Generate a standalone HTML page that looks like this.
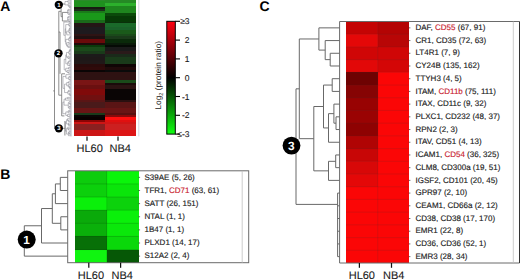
<!DOCTYPE html>
<html><head><meta charset="utf-8"><style>
html,body{margin:0;padding:0;background:#fff;}
body{width:520px;height:279px;overflow:hidden;}
svg{display:block;font-family:"Liberation Sans", sans-serif;text-rendering:geometricPrecision;}
</style></head><body>
<svg width="520" height="279" viewBox="0 0 520 279">
<text x="0.2" y="10.6" font-size="14" font-weight="bold" fill="#000">A</text>
<g shape-rendering="crispEdges">
<rect x="73.5" y="0" width="31.20" height="1.00" fill="#2a8a2a"/>
<rect x="73.5" y="1" width="31.20" height="5.50" fill="#1f901f"/>
<rect x="73.5" y="6.5" width="31.20" height="2.50" fill="#181a12"/>
<rect x="73.5" y="9" width="31.20" height="2.00" fill="#1a2e1a"/>
<rect x="73.5" y="11" width="31.20" height="1.80" fill="#1a7a1a"/>
<rect x="73.5" y="12.8" width="31.20" height="7.20" fill="#1a981a"/>
<rect x="73.5" y="20" width="31.20" height="2.50" fill="#1a6a1a"/>
<rect x="73.5" y="22.5" width="31.20" height="4.50" fill="#241616"/>
<rect x="73.5" y="27" width="31.20" height="3.00" fill="#1c1c1e"/>
<rect x="73.5" y="30" width="31.20" height="3.50" fill="#1e1a1e"/>
<rect x="73.5" y="33.5" width="31.20" height="2.50" fill="#2e1414"/>
<rect x="73.5" y="36" width="31.20" height="2.50" fill="#201010"/>
<rect x="73.5" y="38.5" width="31.20" height="4.50" fill="#6a0a0a"/>
<rect x="73.5" y="43" width="31.20" height="2.00" fill="#200a0a"/>
<rect x="73.5" y="45" width="31.20" height="1.50" fill="#0a3a0a"/>
<rect x="73.5" y="46.5" width="31.20" height="4.50" fill="#1a4a1a"/>
<rect x="73.5" y="51" width="31.20" height="3.00" fill="#1a3a1a"/>
<rect x="73.5" y="54" width="31.20" height="3.00" fill="#1c1a1a"/>
<rect x="73.5" y="57" width="31.20" height="4.00" fill="#1e1818"/>
<rect x="73.5" y="61" width="31.20" height="3.00" fill="#201818"/>
<rect x="73.5" y="64" width="31.20" height="3.00" fill="#2a0a0a"/>
<rect x="73.5" y="67" width="31.20" height="3.00" fill="#300a0a"/>
<rect x="73.5" y="70" width="31.20" height="2.00" fill="#0a0505"/>
<rect x="73.5" y="72" width="31.20" height="8.00" fill="#2e1212"/>
<rect x="73.5" y="80" width="31.20" height="3.00" fill="#7a1515"/>
<rect x="73.5" y="83" width="31.20" height="2.00" fill="#7a1515"/>
<rect x="73.5" y="85" width="31.20" height="4.00" fill="#6a1010"/>
<rect x="73.5" y="89" width="31.20" height="6.00" fill="#800a0a"/>
<rect x="73.5" y="95" width="31.20" height="5.00" fill="#701010"/>
<rect x="73.5" y="100" width="31.20" height="2.00" fill="#5a1515"/>
<rect x="73.5" y="102" width="31.20" height="6.00" fill="#4a1a1a"/>
<rect x="73.5" y="108" width="31.20" height="4.50" fill="#6a1515"/>
<rect x="73.5" y="112.5" width="31.20" height="2.50" fill="#1a3a1a"/>
<rect x="73.5" y="115" width="31.20" height="2.00" fill="#0a0505"/>
<rect x="73.5" y="117" width="31.20" height="3.00" fill="#0a0000"/>
<rect x="73.5" y="120" width="31.20" height="1.50" fill="#8a0505"/>
<rect x="73.5" y="121.5" width="31.20" height="2.50" fill="#cc1515"/>
<rect x="73.5" y="124" width="31.20" height="6.00" fill="#8a2020"/>
<rect x="73.5" y="130" width="31.20" height="6.40" fill="#cc1515"/>
<rect x="104.7" y="0" width="31.30" height="2.70" fill="#258a25"/>
<rect x="104.7" y="2.7" width="31.30" height="3.50" fill="#2cb02c"/>
<rect x="104.7" y="6.2" width="31.30" height="6.60" fill="#1e861e"/>
<rect x="104.7" y="12.8" width="31.30" height="2.70" fill="#0a4a0a"/>
<rect x="104.7" y="15.5" width="31.30" height="6.00" fill="#063a06"/>
<rect x="104.7" y="21.5" width="31.30" height="1.00" fill="#0a300a"/>
<rect x="104.7" y="22.5" width="31.30" height="4.50" fill="#1a6a2a"/>
<rect x="104.7" y="27" width="31.30" height="3.00" fill="#1a622a"/>
<rect x="104.7" y="30" width="31.30" height="3.50" fill="#1a5a1a"/>
<rect x="104.7" y="33.5" width="31.30" height="2.50" fill="#1a4a1a"/>
<rect x="104.7" y="36" width="31.30" height="2.50" fill="#1a3a1a"/>
<rect x="104.7" y="38.5" width="31.30" height="4.50" fill="#0a2a0a"/>
<rect x="104.7" y="43" width="31.30" height="2.00" fill="#0a1a0a"/>
<rect x="104.7" y="45" width="31.30" height="1.50" fill="#050a05"/>
<rect x="104.7" y="46.5" width="31.30" height="4.50" fill="#1a1a1a"/>
<rect x="104.7" y="51" width="31.30" height="3.00" fill="#2a1a1a"/>
<rect x="104.7" y="54" width="31.30" height="3.00" fill="#1a2a1a"/>
<rect x="104.7" y="57" width="31.30" height="4.00" fill="#1a3a1a"/>
<rect x="104.7" y="61" width="31.30" height="3.00" fill="#1a3a1a"/>
<rect x="104.7" y="64" width="31.30" height="3.00" fill="#100505"/>
<rect x="104.7" y="67" width="31.30" height="3.00" fill="#200a0a"/>
<rect x="104.7" y="70" width="31.30" height="2.00" fill="#0a0a0a"/>
<rect x="104.7" y="72" width="31.30" height="8.00" fill="#2e1212"/>
<rect x="104.7" y="80" width="31.30" height="3.00" fill="#1a4a1a"/>
<rect x="104.7" y="83" width="31.30" height="2.00" fill="#1a0a0a"/>
<rect x="104.7" y="85" width="31.30" height="4.00" fill="#2a1212"/>
<rect x="104.7" y="89" width="31.30" height="6.00" fill="#0a0505"/>
<rect x="104.7" y="95" width="31.30" height="5.00" fill="#0a0505"/>
<rect x="104.7" y="100" width="31.30" height="2.00" fill="#2a1010"/>
<rect x="104.7" y="102" width="31.30" height="6.00" fill="#5a1515"/>
<rect x="104.7" y="108" width="31.30" height="4.50" fill="#6a1515"/>
<rect x="104.7" y="112.5" width="31.30" height="2.50" fill="#5a1010"/>
<rect x="104.7" y="115" width="31.30" height="2.00" fill="#8a0a0a"/>
<rect x="104.7" y="117" width="31.30" height="3.00" fill="#ff1010"/>
<rect x="104.7" y="120" width="31.30" height="1.50" fill="#e01010"/>
<rect x="104.7" y="121.5" width="31.30" height="2.50" fill="#d01515"/>
<rect x="104.7" y="124" width="31.30" height="6.00" fill="#cc2020"/>
<rect x="104.7" y="130" width="31.30" height="6.40" fill="#dd1515"/>
</g>
<line x1="71.0" y1="0" x2="71.0" y2="136.4" stroke="#a8a8b8" stroke-width="0.9"/>
<line x1="138.8" y1="0" x2="138.8" y2="136.4" stroke="#c8ccd8" stroke-width="0.8"/>
<line x1="87" y1="136.4" x2="87" y2="140.8" stroke="#111" stroke-width="1.25"/>
<line x1="118" y1="136.4" x2="118" y2="140.8" stroke="#111" stroke-width="1.25"/>
<text x="76.5" y="152" font-size="11" fill="#1a1a1a" stroke="#1a1a1a" stroke-width="0.1">HL60</text>
<text x="109.5" y="152" font-size="11" fill="#1a1a1a" stroke="#1a1a1a" stroke-width="0.1">NB4</text>
<line x1="54.50" y1="53.30" x2="54.50" y2="128.30" stroke="#707070" stroke-width="0.8"/>
<line x1="53.20" y1="90.90" x2="54.50" y2="90.90" stroke="#707070" stroke-width="0.8"/>
<line x1="54.50" y1="53.30" x2="58.80" y2="53.30" stroke="#707070" stroke-width="0.8"/>
<line x1="58.80" y1="11.30" x2="58.80" y2="95.20" stroke="#707070" stroke-width="0.8"/>
<line x1="58.80" y1="11.30" x2="61.10" y2="11.30" stroke="#707070" stroke-width="0.8"/>
<line x1="61.10" y1="4.00" x2="61.10" y2="16.70" stroke="#707070" stroke-width="0.8"/>
<line x1="61.10" y1="4.00" x2="65.00" y2="4.00" stroke="#707070" stroke-width="0.8"/>
<line x1="61.10" y1="16.70" x2="62.40" y2="16.70" stroke="#707070" stroke-width="0.8"/>
<line x1="62.40" y1="12.40" x2="62.40" y2="21.00" stroke="#707070" stroke-width="0.8"/>
<line x1="62.40" y1="12.40" x2="67.60" y2="12.40" stroke="#707070" stroke-width="0.8"/>
<line x1="62.40" y1="21.00" x2="67.60" y2="21.00" stroke="#707070" stroke-width="0.8"/>
<line x1="58.80" y1="95.20" x2="61.70" y2="95.20" stroke="#707070" stroke-width="0.8"/>
<line x1="61.70" y1="73.80" x2="61.70" y2="115.90" stroke="#707070" stroke-width="0.8"/>
<line x1="61.70" y1="73.80" x2="65.00" y2="73.80" stroke="#707070" stroke-width="0.8"/>
<line x1="61.70" y1="115.90" x2="64.40" y2="115.90" stroke="#707070" stroke-width="0.8"/>
<line x1="54.50" y1="128.30" x2="64.90" y2="128.30" stroke="#707070" stroke-width="0.8"/>
<line x1="64.90" y1="121.00" x2="64.90" y2="135.50" stroke="#707070" stroke-width="0.8"/>
<line x1="60.00" y1="32.00" x2="60.00" y2="73.80" stroke="#707070" stroke-width="0.8"/>
<line x1="58.80" y1="32.00" x2="60.00" y2="32.00" stroke="#707070" stroke-width="0.8"/>
<line x1="67.77" y1="0.80" x2="70.60" y2="0.80" stroke="#7a7a84" stroke-width="0.5"/>
<line x1="67.77" y1="2.22" x2="70.60" y2="2.22" stroke="#7a7a84" stroke-width="0.5"/>
<line x1="67.77" y1="0.80" x2="67.77" y2="2.22" stroke="#7a7a84" stroke-width="0.5"/>
<line x1="69.88" y1="6.48" x2="70.60" y2="6.48" stroke="#7a7a84" stroke-width="0.5"/>
<line x1="69.88" y1="7.90" x2="70.60" y2="7.90" stroke="#7a7a84" stroke-width="0.5"/>
<line x1="69.88" y1="6.48" x2="69.88" y2="7.90" stroke="#7a7a84" stroke-width="0.5"/>
<line x1="69.12" y1="5.06" x2="70.60" y2="5.06" stroke="#7a7a84" stroke-width="0.5"/>
<line x1="69.12" y1="7.19" x2="69.88" y2="7.19" stroke="#7a7a84" stroke-width="0.5"/>
<line x1="69.12" y1="5.06" x2="69.12" y2="7.19" stroke="#7a7a84" stroke-width="0.5"/>
<line x1="68.20" y1="3.64" x2="70.60" y2="3.64" stroke="#7a7a84" stroke-width="0.5"/>
<line x1="68.20" y1="6.12" x2="69.12" y2="6.12" stroke="#7a7a84" stroke-width="0.5"/>
<line x1="68.20" y1="3.64" x2="68.20" y2="6.12" stroke="#7a7a84" stroke-width="0.5"/>
<line x1="65.00" y1="1.51" x2="67.77" y2="1.51" stroke="#7a7a84" stroke-width="0.5"/>
<line x1="65.00" y1="4.88" x2="68.20" y2="4.88" stroke="#7a7a84" stroke-width="0.5"/>
<line x1="65.00" y1="1.51" x2="65.00" y2="4.88" stroke="#7a7a84" stroke-width="0.5"/>
<line x1="68.24" y1="9.32" x2="70.60" y2="9.32" stroke="#7a7a84" stroke-width="0.5"/>
<line x1="68.24" y1="10.74" x2="70.60" y2="10.74" stroke="#7a7a84" stroke-width="0.5"/>
<line x1="68.24" y1="9.32" x2="68.24" y2="10.74" stroke="#7a7a84" stroke-width="0.5"/>
<line x1="69.23" y1="13.58" x2="70.60" y2="13.58" stroke="#7a7a84" stroke-width="0.5"/>
<line x1="69.23" y1="15.00" x2="70.60" y2="15.00" stroke="#7a7a84" stroke-width="0.5"/>
<line x1="69.23" y1="13.58" x2="69.23" y2="15.00" stroke="#7a7a84" stroke-width="0.5"/>
<line x1="68.05" y1="12.16" x2="70.60" y2="12.16" stroke="#7a7a84" stroke-width="0.5"/>
<line x1="68.05" y1="14.29" x2="69.23" y2="14.29" stroke="#7a7a84" stroke-width="0.5"/>
<line x1="68.05" y1="12.16" x2="68.05" y2="14.29" stroke="#7a7a84" stroke-width="0.5"/>
<line x1="67.60" y1="10.03" x2="68.24" y2="10.03" stroke="#7a7a84" stroke-width="0.5"/>
<line x1="67.60" y1="13.22" x2="68.05" y2="13.22" stroke="#7a7a84" stroke-width="0.5"/>
<line x1="67.60" y1="10.03" x2="67.60" y2="13.22" stroke="#7a7a84" stroke-width="0.5"/>
<line x1="68.30" y1="16.42" x2="70.60" y2="16.42" stroke="#7a7a84" stroke-width="0.5"/>
<line x1="68.30" y1="17.84" x2="70.60" y2="17.84" stroke="#7a7a84" stroke-width="0.5"/>
<line x1="68.30" y1="16.42" x2="68.30" y2="17.84" stroke="#7a7a84" stroke-width="0.5"/>
<line x1="69.43" y1="20.68" x2="70.60" y2="20.68" stroke="#7a7a84" stroke-width="0.5"/>
<line x1="69.43" y1="22.10" x2="70.60" y2="22.10" stroke="#7a7a84" stroke-width="0.5"/>
<line x1="69.43" y1="20.68" x2="69.43" y2="22.10" stroke="#7a7a84" stroke-width="0.5"/>
<line x1="68.27" y1="19.26" x2="70.60" y2="19.26" stroke="#7a7a84" stroke-width="0.5"/>
<line x1="68.27" y1="21.39" x2="69.43" y2="21.39" stroke="#7a7a84" stroke-width="0.5"/>
<line x1="68.27" y1="19.26" x2="68.27" y2="21.39" stroke="#7a7a84" stroke-width="0.5"/>
<line x1="67.60" y1="17.13" x2="68.30" y2="17.13" stroke="#7a7a84" stroke-width="0.5"/>
<line x1="67.60" y1="20.33" x2="68.27" y2="20.33" stroke="#7a7a84" stroke-width="0.5"/>
<line x1="67.60" y1="17.13" x2="67.60" y2="20.33" stroke="#7a7a84" stroke-width="0.5"/>
<line x1="69.37" y1="24.94" x2="70.60" y2="24.94" stroke="#7a7a84" stroke-width="0.5"/>
<line x1="69.37" y1="26.36" x2="70.60" y2="26.36" stroke="#7a7a84" stroke-width="0.5"/>
<line x1="69.37" y1="24.94" x2="69.37" y2="26.36" stroke="#7a7a84" stroke-width="0.5"/>
<line x1="68.79" y1="23.52" x2="70.60" y2="23.52" stroke="#7a7a84" stroke-width="0.5"/>
<line x1="68.79" y1="25.65" x2="69.37" y2="25.65" stroke="#7a7a84" stroke-width="0.5"/>
<line x1="68.79" y1="23.52" x2="68.79" y2="25.65" stroke="#7a7a84" stroke-width="0.5"/>
<line x1="69.72" y1="27.78" x2="70.60" y2="27.78" stroke="#7a7a84" stroke-width="0.5"/>
<line x1="69.72" y1="29.20" x2="70.60" y2="29.20" stroke="#7a7a84" stroke-width="0.5"/>
<line x1="69.72" y1="27.78" x2="69.72" y2="29.20" stroke="#7a7a84" stroke-width="0.5"/>
<line x1="69.31" y1="28.49" x2="69.72" y2="28.49" stroke="#7a7a84" stroke-width="0.5"/>
<line x1="69.31" y1="30.62" x2="70.60" y2="30.62" stroke="#7a7a84" stroke-width="0.5"/>
<line x1="69.31" y1="28.49" x2="69.31" y2="30.62" stroke="#7a7a84" stroke-width="0.5"/>
<line x1="69.57" y1="32.04" x2="70.60" y2="32.04" stroke="#7a7a84" stroke-width="0.5"/>
<line x1="69.57" y1="33.46" x2="70.60" y2="33.46" stroke="#7a7a84" stroke-width="0.5"/>
<line x1="69.57" y1="32.04" x2="69.57" y2="33.46" stroke="#7a7a84" stroke-width="0.5"/>
<line x1="68.86" y1="29.55" x2="69.31" y2="29.55" stroke="#7a7a84" stroke-width="0.5"/>
<line x1="68.86" y1="32.75" x2="69.57" y2="32.75" stroke="#7a7a84" stroke-width="0.5"/>
<line x1="68.86" y1="29.55" x2="68.86" y2="32.75" stroke="#7a7a84" stroke-width="0.5"/>
<line x1="66.75" y1="31.15" x2="68.86" y2="31.15" stroke="#7a7a84" stroke-width="0.5"/>
<line x1="66.75" y1="34.88" x2="70.60" y2="34.88" stroke="#7a7a84" stroke-width="0.5"/>
<line x1="66.75" y1="31.15" x2="66.75" y2="34.88" stroke="#7a7a84" stroke-width="0.5"/>
<line x1="65.73" y1="24.59" x2="68.79" y2="24.59" stroke="#7a7a84" stroke-width="0.5"/>
<line x1="65.73" y1="33.02" x2="66.75" y2="33.02" stroke="#7a7a84" stroke-width="0.5"/>
<line x1="65.73" y1="24.59" x2="65.73" y2="33.02" stroke="#7a7a84" stroke-width="0.5"/>
<line x1="70.17" y1="36.30" x2="70.60" y2="36.30" stroke="#7a7a84" stroke-width="0.5"/>
<line x1="70.17" y1="37.72" x2="70.60" y2="37.72" stroke="#7a7a84" stroke-width="0.5"/>
<line x1="70.17" y1="36.30" x2="70.17" y2="37.72" stroke="#7a7a84" stroke-width="0.5"/>
<line x1="69.79" y1="37.01" x2="70.17" y2="37.01" stroke="#7a7a84" stroke-width="0.5"/>
<line x1="69.79" y1="39.14" x2="70.60" y2="39.14" stroke="#7a7a84" stroke-width="0.5"/>
<line x1="69.79" y1="37.01" x2="69.79" y2="39.14" stroke="#7a7a84" stroke-width="0.5"/>
<line x1="68.73" y1="38.07" x2="69.79" y2="38.07" stroke="#7a7a84" stroke-width="0.5"/>
<line x1="68.73" y1="40.56" x2="70.60" y2="40.56" stroke="#7a7a84" stroke-width="0.5"/>
<line x1="68.73" y1="38.07" x2="68.73" y2="40.56" stroke="#7a7a84" stroke-width="0.5"/>
<line x1="68.77" y1="41.98" x2="70.60" y2="41.98" stroke="#7a7a84" stroke-width="0.5"/>
<line x1="68.77" y1="43.40" x2="70.60" y2="43.40" stroke="#7a7a84" stroke-width="0.5"/>
<line x1="68.77" y1="41.98" x2="68.77" y2="43.40" stroke="#7a7a84" stroke-width="0.5"/>
<line x1="68.67" y1="46.24" x2="70.60" y2="46.24" stroke="#7a7a84" stroke-width="0.5"/>
<line x1="68.67" y1="47.66" x2="70.60" y2="47.66" stroke="#7a7a84" stroke-width="0.5"/>
<line x1="68.67" y1="46.24" x2="68.67" y2="47.66" stroke="#7a7a84" stroke-width="0.5"/>
<line x1="67.41" y1="44.82" x2="70.60" y2="44.82" stroke="#7a7a84" stroke-width="0.5"/>
<line x1="67.41" y1="46.95" x2="68.67" y2="46.95" stroke="#7a7a84" stroke-width="0.5"/>
<line x1="67.41" y1="44.82" x2="67.41" y2="46.95" stroke="#7a7a84" stroke-width="0.5"/>
<line x1="66.59" y1="42.69" x2="68.77" y2="42.69" stroke="#7a7a84" stroke-width="0.5"/>
<line x1="66.59" y1="45.88" x2="67.41" y2="45.88" stroke="#7a7a84" stroke-width="0.5"/>
<line x1="66.59" y1="42.69" x2="66.59" y2="45.88" stroke="#7a7a84" stroke-width="0.5"/>
<line x1="65.79" y1="39.32" x2="68.73" y2="39.32" stroke="#7a7a84" stroke-width="0.5"/>
<line x1="65.79" y1="44.29" x2="66.59" y2="44.29" stroke="#7a7a84" stroke-width="0.5"/>
<line x1="65.79" y1="39.32" x2="65.79" y2="44.29" stroke="#7a7a84" stroke-width="0.5"/>
<line x1="65.24" y1="28.80" x2="65.73" y2="28.80" stroke="#7a7a84" stroke-width="0.5"/>
<line x1="65.24" y1="41.80" x2="65.79" y2="41.80" stroke="#7a7a84" stroke-width="0.5"/>
<line x1="65.24" y1="28.80" x2="65.24" y2="41.80" stroke="#7a7a84" stroke-width="0.5"/>
<line x1="63.80" y1="22.10" x2="70.60" y2="22.10" stroke="#7a7a84" stroke-width="0.5"/>
<line x1="63.80" y1="35.30" x2="65.24" y2="35.30" stroke="#7a7a84" stroke-width="0.5"/>
<line x1="63.80" y1="22.10" x2="63.80" y2="35.30" stroke="#7a7a84" stroke-width="0.5"/>
<line x1="70.14" y1="49.08" x2="70.60" y2="49.08" stroke="#7a7a84" stroke-width="0.5"/>
<line x1="70.14" y1="50.50" x2="70.60" y2="50.50" stroke="#7a7a84" stroke-width="0.5"/>
<line x1="70.14" y1="49.08" x2="70.14" y2="50.50" stroke="#7a7a84" stroke-width="0.5"/>
<line x1="69.71" y1="49.79" x2="70.14" y2="49.79" stroke="#7a7a84" stroke-width="0.5"/>
<line x1="69.71" y1="51.92" x2="70.60" y2="51.92" stroke="#7a7a84" stroke-width="0.5"/>
<line x1="69.71" y1="49.79" x2="69.71" y2="51.92" stroke="#7a7a84" stroke-width="0.5"/>
<line x1="69.80" y1="53.34" x2="70.60" y2="53.34" stroke="#7a7a84" stroke-width="0.5"/>
<line x1="69.80" y1="54.76" x2="70.60" y2="54.76" stroke="#7a7a84" stroke-width="0.5"/>
<line x1="69.80" y1="53.34" x2="69.80" y2="54.76" stroke="#7a7a84" stroke-width="0.5"/>
<line x1="68.89" y1="50.85" x2="69.71" y2="50.85" stroke="#7a7a84" stroke-width="0.5"/>
<line x1="68.89" y1="54.05" x2="69.80" y2="54.05" stroke="#7a7a84" stroke-width="0.5"/>
<line x1="68.89" y1="50.85" x2="68.89" y2="54.05" stroke="#7a7a84" stroke-width="0.5"/>
<line x1="68.95" y1="57.60" x2="70.60" y2="57.60" stroke="#7a7a84" stroke-width="0.5"/>
<line x1="68.95" y1="59.02" x2="70.60" y2="59.02" stroke="#7a7a84" stroke-width="0.5"/>
<line x1="68.95" y1="57.60" x2="68.95" y2="59.02" stroke="#7a7a84" stroke-width="0.5"/>
<line x1="67.85" y1="56.18" x2="70.60" y2="56.18" stroke="#7a7a84" stroke-width="0.5"/>
<line x1="67.85" y1="58.31" x2="68.95" y2="58.31" stroke="#7a7a84" stroke-width="0.5"/>
<line x1="67.85" y1="56.18" x2="67.85" y2="58.31" stroke="#7a7a84" stroke-width="0.5"/>
<line x1="66.49" y1="52.45" x2="68.89" y2="52.45" stroke="#7a7a84" stroke-width="0.5"/>
<line x1="66.49" y1="57.24" x2="67.85" y2="57.24" stroke="#7a7a84" stroke-width="0.5"/>
<line x1="66.49" y1="52.45" x2="66.49" y2="57.24" stroke="#7a7a84" stroke-width="0.5"/>
<line x1="69.78" y1="60.44" x2="70.60" y2="60.44" stroke="#7a7a84" stroke-width="0.5"/>
<line x1="69.78" y1="61.86" x2="70.60" y2="61.86" stroke="#7a7a84" stroke-width="0.5"/>
<line x1="69.78" y1="60.44" x2="69.78" y2="61.86" stroke="#7a7a84" stroke-width="0.5"/>
<line x1="68.38" y1="61.15" x2="69.78" y2="61.15" stroke="#7a7a84" stroke-width="0.5"/>
<line x1="68.38" y1="63.28" x2="70.60" y2="63.28" stroke="#7a7a84" stroke-width="0.5"/>
<line x1="68.38" y1="61.15" x2="68.38" y2="63.28" stroke="#7a7a84" stroke-width="0.5"/>
<line x1="69.39" y1="64.70" x2="70.60" y2="64.70" stroke="#7a7a84" stroke-width="0.5"/>
<line x1="69.39" y1="66.12" x2="70.60" y2="66.12" stroke="#7a7a84" stroke-width="0.5"/>
<line x1="69.39" y1="64.70" x2="69.39" y2="66.12" stroke="#7a7a84" stroke-width="0.5"/>
<line x1="67.70" y1="62.21" x2="68.38" y2="62.21" stroke="#7a7a84" stroke-width="0.5"/>
<line x1="67.70" y1="65.41" x2="69.39" y2="65.41" stroke="#7a7a84" stroke-width="0.5"/>
<line x1="67.70" y1="62.21" x2="67.70" y2="65.41" stroke="#7a7a84" stroke-width="0.5"/>
<line x1="65.80" y1="54.85" x2="66.49" y2="54.85" stroke="#7a7a84" stroke-width="0.5"/>
<line x1="65.80" y1="63.81" x2="67.70" y2="63.81" stroke="#7a7a84" stroke-width="0.5"/>
<line x1="65.80" y1="54.85" x2="65.80" y2="63.81" stroke="#7a7a84" stroke-width="0.5"/>
<line x1="68.57" y1="67.54" x2="70.60" y2="67.54" stroke="#7a7a84" stroke-width="0.5"/>
<line x1="68.57" y1="68.96" x2="70.60" y2="68.96" stroke="#7a7a84" stroke-width="0.5"/>
<line x1="68.57" y1="67.54" x2="68.57" y2="68.96" stroke="#7a7a84" stroke-width="0.5"/>
<line x1="68.46" y1="71.80" x2="70.60" y2="71.80" stroke="#7a7a84" stroke-width="0.5"/>
<line x1="68.46" y1="73.22" x2="70.60" y2="73.22" stroke="#7a7a84" stroke-width="0.5"/>
<line x1="68.46" y1="71.80" x2="68.46" y2="73.22" stroke="#7a7a84" stroke-width="0.5"/>
<line x1="67.12" y1="70.38" x2="70.60" y2="70.38" stroke="#7a7a84" stroke-width="0.5"/>
<line x1="67.12" y1="72.51" x2="68.46" y2="72.51" stroke="#7a7a84" stroke-width="0.5"/>
<line x1="67.12" y1="70.38" x2="67.12" y2="72.51" stroke="#7a7a84" stroke-width="0.5"/>
<line x1="65.73" y1="68.25" x2="68.57" y2="68.25" stroke="#7a7a84" stroke-width="0.5"/>
<line x1="65.73" y1="71.44" x2="67.12" y2="71.44" stroke="#7a7a84" stroke-width="0.5"/>
<line x1="65.73" y1="68.25" x2="65.73" y2="71.44" stroke="#7a7a84" stroke-width="0.5"/>
<line x1="64.20" y1="59.33" x2="65.80" y2="59.33" stroke="#7a7a84" stroke-width="0.5"/>
<line x1="64.20" y1="69.85" x2="65.73" y2="69.85" stroke="#7a7a84" stroke-width="0.5"/>
<line x1="64.20" y1="59.33" x2="64.20" y2="69.85" stroke="#7a7a84" stroke-width="0.5"/>
<line x1="69.81" y1="76.06" x2="70.60" y2="76.06" stroke="#7a7a84" stroke-width="0.5"/>
<line x1="69.81" y1="77.48" x2="70.60" y2="77.48" stroke="#7a7a84" stroke-width="0.5"/>
<line x1="69.81" y1="76.06" x2="69.81" y2="77.48" stroke="#7a7a84" stroke-width="0.5"/>
<line x1="69.82" y1="78.90" x2="70.60" y2="78.90" stroke="#7a7a84" stroke-width="0.5"/>
<line x1="69.82" y1="80.32" x2="70.60" y2="80.32" stroke="#7a7a84" stroke-width="0.5"/>
<line x1="69.82" y1="78.90" x2="69.82" y2="80.32" stroke="#7a7a84" stroke-width="0.5"/>
<line x1="68.73" y1="76.77" x2="69.81" y2="76.77" stroke="#7a7a84" stroke-width="0.5"/>
<line x1="68.73" y1="79.61" x2="69.82" y2="79.61" stroke="#7a7a84" stroke-width="0.5"/>
<line x1="68.73" y1="76.77" x2="68.73" y2="79.61" stroke="#7a7a84" stroke-width="0.5"/>
<line x1="65.91" y1="74.64" x2="70.60" y2="74.64" stroke="#7a7a84" stroke-width="0.5"/>
<line x1="65.91" y1="78.19" x2="68.73" y2="78.19" stroke="#7a7a84" stroke-width="0.5"/>
<line x1="65.91" y1="74.64" x2="65.91" y2="78.19" stroke="#7a7a84" stroke-width="0.5"/>
<line x1="68.46" y1="81.74" x2="70.60" y2="81.74" stroke="#7a7a84" stroke-width="0.5"/>
<line x1="68.46" y1="83.16" x2="70.60" y2="83.16" stroke="#7a7a84" stroke-width="0.5"/>
<line x1="68.46" y1="81.74" x2="68.46" y2="83.16" stroke="#7a7a84" stroke-width="0.5"/>
<line x1="69.84" y1="87.42" x2="70.60" y2="87.42" stroke="#7a7a84" stroke-width="0.5"/>
<line x1="69.84" y1="88.84" x2="70.60" y2="88.84" stroke="#7a7a84" stroke-width="0.5"/>
<line x1="69.84" y1="87.42" x2="69.84" y2="88.84" stroke="#7a7a84" stroke-width="0.5"/>
<line x1="69.41" y1="86.00" x2="70.60" y2="86.00" stroke="#7a7a84" stroke-width="0.5"/>
<line x1="69.41" y1="88.13" x2="69.84" y2="88.13" stroke="#7a7a84" stroke-width="0.5"/>
<line x1="69.41" y1="86.00" x2="69.41" y2="88.13" stroke="#7a7a84" stroke-width="0.5"/>
<line x1="68.40" y1="84.58" x2="70.60" y2="84.58" stroke="#7a7a84" stroke-width="0.5"/>
<line x1="68.40" y1="87.06" x2="69.41" y2="87.06" stroke="#7a7a84" stroke-width="0.5"/>
<line x1="68.40" y1="84.58" x2="68.40" y2="87.06" stroke="#7a7a84" stroke-width="0.5"/>
<line x1="66.73" y1="82.45" x2="68.46" y2="82.45" stroke="#7a7a84" stroke-width="0.5"/>
<line x1="66.73" y1="85.82" x2="68.40" y2="85.82" stroke="#7a7a84" stroke-width="0.5"/>
<line x1="66.73" y1="82.45" x2="66.73" y2="85.82" stroke="#7a7a84" stroke-width="0.5"/>
<line x1="68.67" y1="90.26" x2="70.60" y2="90.26" stroke="#7a7a84" stroke-width="0.5"/>
<line x1="68.67" y1="91.68" x2="70.60" y2="91.68" stroke="#7a7a84" stroke-width="0.5"/>
<line x1="68.67" y1="90.26" x2="68.67" y2="91.68" stroke="#7a7a84" stroke-width="0.5"/>
<line x1="70.24" y1="94.52" x2="70.60" y2="94.52" stroke="#7a7a84" stroke-width="0.5"/>
<line x1="70.24" y1="95.94" x2="70.60" y2="95.94" stroke="#7a7a84" stroke-width="0.5"/>
<line x1="70.24" y1="94.52" x2="70.24" y2="95.94" stroke="#7a7a84" stroke-width="0.5"/>
<line x1="69.64" y1="93.10" x2="70.60" y2="93.10" stroke="#7a7a84" stroke-width="0.5"/>
<line x1="69.64" y1="95.23" x2="70.24" y2="95.23" stroke="#7a7a84" stroke-width="0.5"/>
<line x1="69.64" y1="93.10" x2="69.64" y2="95.23" stroke="#7a7a84" stroke-width="0.5"/>
<line x1="67.92" y1="90.97" x2="68.67" y2="90.97" stroke="#7a7a84" stroke-width="0.5"/>
<line x1="67.92" y1="94.16" x2="69.64" y2="94.16" stroke="#7a7a84" stroke-width="0.5"/>
<line x1="67.92" y1="90.97" x2="67.92" y2="94.16" stroke="#7a7a84" stroke-width="0.5"/>
<line x1="64.55" y1="84.14" x2="66.73" y2="84.14" stroke="#7a7a84" stroke-width="0.5"/>
<line x1="64.55" y1="92.57" x2="67.92" y2="92.57" stroke="#7a7a84" stroke-width="0.5"/>
<line x1="64.55" y1="84.14" x2="64.55" y2="92.57" stroke="#7a7a84" stroke-width="0.5"/>
<line x1="63.00" y1="76.41" x2="65.91" y2="76.41" stroke="#7a7a84" stroke-width="0.5"/>
<line x1="63.00" y1="88.35" x2="64.55" y2="88.35" stroke="#7a7a84" stroke-width="0.5"/>
<line x1="63.00" y1="76.41" x2="63.00" y2="88.35" stroke="#7a7a84" stroke-width="0.5"/>
<line x1="67.62" y1="97.36" x2="70.60" y2="97.36" stroke="#7a7a84" stroke-width="0.5"/>
<line x1="67.62" y1="98.78" x2="70.60" y2="98.78" stroke="#7a7a84" stroke-width="0.5"/>
<line x1="67.62" y1="97.36" x2="67.62" y2="98.78" stroke="#7a7a84" stroke-width="0.5"/>
<line x1="65.56" y1="98.07" x2="67.62" y2="98.07" stroke="#7a7a84" stroke-width="0.5"/>
<line x1="65.56" y1="100.20" x2="70.60" y2="100.20" stroke="#7a7a84" stroke-width="0.5"/>
<line x1="65.56" y1="98.07" x2="65.56" y2="100.20" stroke="#7a7a84" stroke-width="0.5"/>
<line x1="70.04" y1="103.04" x2="70.60" y2="103.04" stroke="#7a7a84" stroke-width="0.5"/>
<line x1="70.04" y1="104.46" x2="70.60" y2="104.46" stroke="#7a7a84" stroke-width="0.5"/>
<line x1="70.04" y1="103.04" x2="70.04" y2="104.46" stroke="#7a7a84" stroke-width="0.5"/>
<line x1="69.17" y1="101.62" x2="70.60" y2="101.62" stroke="#7a7a84" stroke-width="0.5"/>
<line x1="69.17" y1="103.75" x2="70.04" y2="103.75" stroke="#7a7a84" stroke-width="0.5"/>
<line x1="69.17" y1="101.62" x2="69.17" y2="103.75" stroke="#7a7a84" stroke-width="0.5"/>
<line x1="69.93" y1="105.88" x2="70.60" y2="105.88" stroke="#7a7a84" stroke-width="0.5"/>
<line x1="69.93" y1="107.30" x2="70.60" y2="107.30" stroke="#7a7a84" stroke-width="0.5"/>
<line x1="69.93" y1="105.88" x2="69.93" y2="107.30" stroke="#7a7a84" stroke-width="0.5"/>
<line x1="69.05" y1="106.59" x2="69.93" y2="106.59" stroke="#7a7a84" stroke-width="0.5"/>
<line x1="69.05" y1="108.72" x2="70.60" y2="108.72" stroke="#7a7a84" stroke-width="0.5"/>
<line x1="69.05" y1="106.59" x2="69.05" y2="108.72" stroke="#7a7a84" stroke-width="0.5"/>
<line x1="68.28" y1="102.69" x2="69.17" y2="102.69" stroke="#7a7a84" stroke-width="0.5"/>
<line x1="68.28" y1="107.66" x2="69.05" y2="107.66" stroke="#7a7a84" stroke-width="0.5"/>
<line x1="68.28" y1="102.69" x2="68.28" y2="107.66" stroke="#7a7a84" stroke-width="0.5"/>
<line x1="64.07" y1="99.13" x2="65.56" y2="99.13" stroke="#7a7a84" stroke-width="0.5"/>
<line x1="64.07" y1="105.17" x2="68.28" y2="105.17" stroke="#7a7a84" stroke-width="0.5"/>
<line x1="64.07" y1="99.13" x2="64.07" y2="105.17" stroke="#7a7a84" stroke-width="0.5"/>
<line x1="69.13" y1="110.14" x2="70.60" y2="110.14" stroke="#7a7a84" stroke-width="0.5"/>
<line x1="69.13" y1="111.56" x2="70.60" y2="111.56" stroke="#7a7a84" stroke-width="0.5"/>
<line x1="69.13" y1="110.14" x2="69.13" y2="111.56" stroke="#7a7a84" stroke-width="0.5"/>
<line x1="68.20" y1="110.85" x2="69.13" y2="110.85" stroke="#7a7a84" stroke-width="0.5"/>
<line x1="68.20" y1="112.98" x2="70.60" y2="112.98" stroke="#7a7a84" stroke-width="0.5"/>
<line x1="68.20" y1="110.85" x2="68.20" y2="112.98" stroke="#7a7a84" stroke-width="0.5"/>
<line x1="69.14" y1="115.82" x2="70.60" y2="115.82" stroke="#7a7a84" stroke-width="0.5"/>
<line x1="69.14" y1="117.24" x2="70.60" y2="117.24" stroke="#7a7a84" stroke-width="0.5"/>
<line x1="69.14" y1="115.82" x2="69.14" y2="117.24" stroke="#7a7a84" stroke-width="0.5"/>
<line x1="67.57" y1="114.40" x2="70.60" y2="114.40" stroke="#7a7a84" stroke-width="0.5"/>
<line x1="67.57" y1="116.53" x2="69.14" y2="116.53" stroke="#7a7a84" stroke-width="0.5"/>
<line x1="67.57" y1="114.40" x2="67.57" y2="116.53" stroke="#7a7a84" stroke-width="0.5"/>
<line x1="65.82" y1="111.91" x2="68.20" y2="111.91" stroke="#7a7a84" stroke-width="0.5"/>
<line x1="65.82" y1="115.47" x2="67.57" y2="115.47" stroke="#7a7a84" stroke-width="0.5"/>
<line x1="65.82" y1="111.91" x2="65.82" y2="115.47" stroke="#7a7a84" stroke-width="0.5"/>
<line x1="62.80" y1="102.15" x2="64.07" y2="102.15" stroke="#7a7a84" stroke-width="0.5"/>
<line x1="62.80" y1="113.69" x2="65.82" y2="113.69" stroke="#7a7a84" stroke-width="0.5"/>
<line x1="62.80" y1="102.15" x2="62.80" y2="113.69" stroke="#7a7a84" stroke-width="0.5"/>
<line x1="68.43" y1="120.08" x2="70.60" y2="120.08" stroke="#7a7a84" stroke-width="0.5"/>
<line x1="68.43" y1="121.50" x2="70.60" y2="121.50" stroke="#7a7a84" stroke-width="0.5"/>
<line x1="68.43" y1="120.08" x2="68.43" y2="121.50" stroke="#7a7a84" stroke-width="0.5"/>
<line x1="67.52" y1="118.66" x2="70.60" y2="118.66" stroke="#7a7a84" stroke-width="0.5"/>
<line x1="67.52" y1="120.79" x2="68.43" y2="120.79" stroke="#7a7a84" stroke-width="0.5"/>
<line x1="67.52" y1="118.66" x2="67.52" y2="120.79" stroke="#7a7a84" stroke-width="0.5"/>
<line x1="68.82" y1="124.34" x2="70.60" y2="124.34" stroke="#7a7a84" stroke-width="0.5"/>
<line x1="68.82" y1="125.76" x2="70.60" y2="125.76" stroke="#7a7a84" stroke-width="0.5"/>
<line x1="68.82" y1="124.34" x2="68.82" y2="125.76" stroke="#7a7a84" stroke-width="0.5"/>
<line x1="68.41" y1="122.92" x2="70.60" y2="122.92" stroke="#7a7a84" stroke-width="0.5"/>
<line x1="68.41" y1="125.05" x2="68.82" y2="125.05" stroke="#7a7a84" stroke-width="0.5"/>
<line x1="68.41" y1="122.92" x2="68.41" y2="125.05" stroke="#7a7a84" stroke-width="0.5"/>
<line x1="66.44" y1="119.72" x2="67.52" y2="119.72" stroke="#7a7a84" stroke-width="0.5"/>
<line x1="66.44" y1="123.98" x2="68.41" y2="123.98" stroke="#7a7a84" stroke-width="0.5"/>
<line x1="66.44" y1="119.72" x2="66.44" y2="123.98" stroke="#7a7a84" stroke-width="0.5"/>
<line x1="68.42" y1="128.60" x2="70.60" y2="128.60" stroke="#7a7a84" stroke-width="0.5"/>
<line x1="68.42" y1="130.02" x2="70.60" y2="130.02" stroke="#7a7a84" stroke-width="0.5"/>
<line x1="68.42" y1="128.60" x2="68.42" y2="130.02" stroke="#7a7a84" stroke-width="0.5"/>
<line x1="67.81" y1="127.18" x2="70.60" y2="127.18" stroke="#7a7a84" stroke-width="0.5"/>
<line x1="67.81" y1="129.31" x2="68.42" y2="129.31" stroke="#7a7a84" stroke-width="0.5"/>
<line x1="67.81" y1="127.18" x2="67.81" y2="129.31" stroke="#7a7a84" stroke-width="0.5"/>
<line x1="69.32" y1="132.86" x2="70.60" y2="132.86" stroke="#7a7a84" stroke-width="0.5"/>
<line x1="69.32" y1="134.28" x2="70.60" y2="134.28" stroke="#7a7a84" stroke-width="0.5"/>
<line x1="69.32" y1="132.86" x2="69.32" y2="134.28" stroke="#7a7a84" stroke-width="0.5"/>
<line x1="68.96" y1="131.44" x2="70.60" y2="131.44" stroke="#7a7a84" stroke-width="0.5"/>
<line x1="68.96" y1="133.57" x2="69.32" y2="133.57" stroke="#7a7a84" stroke-width="0.5"/>
<line x1="68.96" y1="131.44" x2="68.96" y2="133.57" stroke="#7a7a84" stroke-width="0.5"/>
<line x1="68.39" y1="132.50" x2="68.96" y2="132.50" stroke="#7a7a84" stroke-width="0.5"/>
<line x1="68.39" y1="135.70" x2="70.60" y2="135.70" stroke="#7a7a84" stroke-width="0.5"/>
<line x1="68.39" y1="132.50" x2="68.39" y2="135.70" stroke="#7a7a84" stroke-width="0.5"/>
<line x1="66.58" y1="128.25" x2="67.81" y2="128.25" stroke="#7a7a84" stroke-width="0.5"/>
<line x1="66.58" y1="134.10" x2="68.39" y2="134.10" stroke="#7a7a84" stroke-width="0.5"/>
<line x1="66.58" y1="128.25" x2="66.58" y2="134.10" stroke="#7a7a84" stroke-width="0.5"/>
<line x1="65.50" y1="121.85" x2="66.44" y2="121.85" stroke="#7a7a84" stroke-width="0.5"/>
<line x1="65.50" y1="131.17" x2="66.58" y2="131.17" stroke="#7a7a84" stroke-width="0.5"/>
<line x1="65.50" y1="121.85" x2="65.50" y2="131.17" stroke="#7a7a84" stroke-width="0.5"/>
<circle cx="58.8" cy="4.8" r="4.15" fill="#000"/>
<text x="58.8" y="6.9" font-size="6" font-weight="bold" fill="#fff" text-anchor="middle">1</text>
<circle cx="58.5" cy="53.3" r="4.15" fill="#000"/>
<text x="58.5" y="55.4" font-size="6" font-weight="bold" fill="#fff" text-anchor="middle">2</text>
<circle cx="58.8" cy="128.3" r="4.15" fill="#000"/>
<text x="58.8" y="130.4" font-size="6" font-weight="bold" fill="#fff" text-anchor="middle">3</text>
<defs><linearGradient id="cb" x1="0" y1="0" x2="0" y2="1"><stop offset="0" stop-color="#ff0010"/><stop offset="0.5" stop-color="#000"/><stop offset="1" stop-color="#10ff10"/></linearGradient></defs>
<rect x="166.8" y="21.3" width="8.5" height="112.8" fill="url(#cb)" stroke="#000" stroke-width="1"/>
<line x1="175.3" y1="21.3" x2="180" y2="21.3" stroke="#000" stroke-width="1.1"/>
<text x="189.6" y="24.3" font-size="8.5" fill="#1a1a1a" stroke="#1a1a1a" stroke-width="0.1" text-anchor="end">≥3</text>
<line x1="175.3" y1="40.1" x2="180" y2="40.1" stroke="#000" stroke-width="1.1"/>
<text x="189.6" y="43.1" font-size="8.5" fill="#1a1a1a" stroke="#1a1a1a" stroke-width="0.1" text-anchor="end">2</text>
<line x1="175.3" y1="58.9" x2="180" y2="58.9" stroke="#000" stroke-width="1.1"/>
<text x="189.6" y="61.9" font-size="8.5" fill="#1a1a1a" stroke="#1a1a1a" stroke-width="0.1" text-anchor="end">1</text>
<line x1="175.3" y1="77.7" x2="180" y2="77.7" stroke="#000" stroke-width="1.1"/>
<text x="189.6" y="80.7" font-size="8.5" fill="#1a1a1a" stroke="#1a1a1a" stroke-width="0.1" text-anchor="end">0</text>
<line x1="175.3" y1="96.5" x2="180" y2="96.5" stroke="#000" stroke-width="1.1"/>
<text x="189.6" y="99.5" font-size="8.5" fill="#1a1a1a" stroke="#1a1a1a" stroke-width="0.1" text-anchor="end">-1</text>
<line x1="175.3" y1="115.3" x2="180" y2="115.3" stroke="#000" stroke-width="1.1"/>
<text x="189.6" y="118.3" font-size="8.5" fill="#1a1a1a" stroke="#1a1a1a" stroke-width="0.1" text-anchor="end">-2</text>
<line x1="175.3" y1="134.1" x2="180" y2="134.1" stroke="#000" stroke-width="1.1"/>
<text x="189.6" y="137.1" font-size="8.5" fill="#1a1a1a" stroke="#1a1a1a" stroke-width="0.1" text-anchor="end">≤-3</text>
<text transform="translate(161.4,109.6) rotate(-90)" font-size="8.3" fill="#1a1a1a">Log<tspan font-size="5.6" dy="1.5">2</tspan><tspan dy="-1.5"> (protein ratio)</tspan></text>
<text x="0.2" y="178.9" font-size="14" font-weight="bold" fill="#000">B</text>
<g shape-rendering="crispEdges">
<rect x="75.0" y="170.80" width="31.70" height="13.13" fill="#0dcc0d"/>
<rect x="106.7" y="170.80" width="31.80" height="13.13" fill="#0af50a"/>
<rect x="75.0" y="183.93" width="31.70" height="13.13" fill="#0cd00c"/>
<rect x="106.7" y="183.93" width="31.80" height="13.13" fill="#0ae50a"/>
<rect x="75.0" y="197.06" width="31.70" height="13.13" fill="#0af00a"/>
<rect x="106.7" y="197.06" width="31.80" height="13.13" fill="#0cd20c"/>
<rect x="75.0" y="210.19" width="31.70" height="13.13" fill="#0aaa0a"/>
<rect x="106.7" y="210.19" width="31.80" height="13.13" fill="#0af00a"/>
<rect x="75.0" y="223.31" width="31.70" height="13.13" fill="#0ab00a"/>
<rect x="106.7" y="223.31" width="31.80" height="13.13" fill="#0ae80a"/>
<rect x="75.0" y="236.44" width="31.70" height="13.13" fill="#077007"/>
<rect x="106.7" y="236.44" width="31.80" height="13.13" fill="#0ad80a"/>
<rect x="75.0" y="249.57" width="31.70" height="13.13" fill="#10f510"/>
<rect x="106.7" y="249.57" width="31.80" height="13.13" fill="#065806"/>
</g>
<line x1="75.0" y1="183.93" x2="138.5" y2="183.93" stroke="#004000" stroke-opacity="0.3" stroke-width="0.7"/>
<line x1="75.0" y1="197.06" x2="138.5" y2="197.06" stroke="#004000" stroke-opacity="0.3" stroke-width="0.7"/>
<line x1="75.0" y1="210.19" x2="138.5" y2="210.19" stroke="#004000" stroke-opacity="0.3" stroke-width="0.7"/>
<line x1="75.0" y1="223.31" x2="138.5" y2="223.31" stroke="#004000" stroke-opacity="0.3" stroke-width="0.7"/>
<line x1="75.0" y1="236.44" x2="138.5" y2="236.44" stroke="#004000" stroke-opacity="0.3" stroke-width="0.7"/>
<line x1="75.0" y1="249.57" x2="138.5" y2="249.57" stroke="#004000" stroke-opacity="0.3" stroke-width="0.7"/>
<line x1="106.7" y1="170.8" x2="106.7" y2="262.7" stroke="#004000" stroke-opacity="0.25" stroke-width="0.7"/>
<line x1="138.5" y1="177.36" x2="140.1" y2="177.36" stroke="#333" stroke-width="0.7"/>
<line x1="138.5" y1="190.49" x2="140.1" y2="190.49" stroke="#333" stroke-width="0.7"/>
<line x1="138.5" y1="203.62" x2="140.1" y2="203.62" stroke="#333" stroke-width="0.7"/>
<line x1="138.5" y1="216.75" x2="140.1" y2="216.75" stroke="#333" stroke-width="0.7"/>
<line x1="138.5" y1="229.88" x2="140.1" y2="229.88" stroke="#333" stroke-width="0.7"/>
<line x1="138.5" y1="243.01" x2="140.1" y2="243.01" stroke="#333" stroke-width="0.7"/>
<line x1="138.5" y1="256.14" x2="140.1" y2="256.14" stroke="#333" stroke-width="0.7"/>
<rect x="67.7" y="170.8" width="181.0" height="91.89999999999998" fill="none" stroke="#6a6a6a" stroke-width="1"/>
<line x1="242.2" y1="170.8" x2="242.2" y2="262.7" stroke="#c0c0c0" stroke-width="0.8"/>
<text x="144.5" y="179.56" font-size="8" fill="#1a1a1a" stroke="#1a1a1a" stroke-width="0.14">S39AE (5, 26)</text>
<text x="144.5" y="192.69" font-size="8" fill="#1a1a1a" stroke="#1a1a1a" stroke-width="0.14">TFR1, <tspan fill="#c8202e" stroke="#c8202e">CD71</tspan> (63, 61)</text>
<text x="144.5" y="205.82" font-size="8" fill="#1a1a1a" stroke="#1a1a1a" stroke-width="0.14">SATT (26, 151)</text>
<text x="144.5" y="218.95" font-size="8" fill="#1a1a1a" stroke="#1a1a1a" stroke-width="0.14">NTAL (1, 1)</text>
<text x="144.5" y="232.08" font-size="8" fill="#1a1a1a" stroke="#1a1a1a" stroke-width="0.14">1B47 (1, 1)</text>
<text x="144.5" y="245.21" font-size="8" fill="#1a1a1a" stroke="#1a1a1a" stroke-width="0.14">PLXD1 (14, 17)</text>
<text x="144.5" y="258.34" font-size="8" fill="#1a1a1a" stroke="#1a1a1a" stroke-width="0.14">S12A2 (2, 4)</text>
<line x1="88.8" y1="262.7" x2="88.8" y2="267.8" stroke="#111" stroke-width="1.25"/>
<line x1="120.6" y1="262.7" x2="120.6" y2="267.8" stroke="#111" stroke-width="1.25"/>
<text x="77.8" y="278.5" font-size="11" fill="#1a1a1a" stroke="#1a1a1a" stroke-width="0.1">HL60</text>
<text x="111.5" y="278.5" font-size="11" fill="#1a1a1a" stroke="#1a1a1a" stroke-width="0.1">NB4</text>
<path d="M67.70,177.36 L60.30,177.36 L60.30,190.49 L67.70,190.49" fill="none" stroke="#686868" stroke-width="1"/>
<path d="M60.30,183.93 L55.40,183.93 L55.40,203.62 L67.70,203.62" fill="none" stroke="#686868" stroke-width="1"/>
<path d="M67.70,216.75 L60.80,216.75 L60.80,229.88 L67.70,229.88" fill="none" stroke="#686868" stroke-width="1"/>
<path d="M55.40,193.78 L52.30,193.78 L52.30,223.31 L60.80,223.31" fill="none" stroke="#686868" stroke-width="1"/>
<path d="M52.30,208.54 L41.50,208.54 L41.50,243.01 L67.70,243.01" fill="none" stroke="#686868" stroke-width="1"/>
<path d="M41.50,225.78 L24.30,225.78 L24.30,256.14 L67.70,256.14" fill="none" stroke="#686868" stroke-width="1"/>
<circle cx="26.7" cy="239.6" r="9.0" fill="#000"/>
<text x="26.6" y="243.9" font-size="11.8" font-weight="bold" fill="#fff" text-anchor="middle">1</text>
<text x="259.6" y="10.7" font-size="14" font-weight="bold" fill="#000">C</text>
<g shape-rendering="crispEdges">
<rect x="346.0" y="21.50" width="31.70" height="12.71" fill="#c40404"/>
<rect x="377.7" y="21.50" width="31.10" height="12.71" fill="#b40404"/>
<rect x="346.0" y="34.21" width="31.70" height="12.71" fill="#e40808"/>
<rect x="377.7" y="34.21" width="31.10" height="12.71" fill="#b80606"/>
<rect x="346.0" y="46.92" width="31.70" height="12.71" fill="#d00606"/>
<rect x="377.7" y="46.92" width="31.10" height="12.71" fill="#d00606"/>
<rect x="346.0" y="59.63" width="31.70" height="12.71" fill="#e20808"/>
<rect x="377.7" y="59.63" width="31.10" height="12.71" fill="#d40606"/>
<rect x="346.0" y="72.34" width="31.70" height="12.71" fill="#6e0202"/>
<rect x="377.7" y="72.34" width="31.10" height="12.71" fill="#fb0606"/>
<rect x="346.0" y="85.05" width="31.70" height="12.71" fill="#860404"/>
<rect x="377.7" y="85.05" width="31.10" height="12.71" fill="#fb0606"/>
<rect x="346.0" y="97.76" width="31.70" height="12.71" fill="#980202"/>
<rect x="377.7" y="97.76" width="31.10" height="12.71" fill="#fb0606"/>
<rect x="346.0" y="110.47" width="31.70" height="12.71" fill="#9a0303"/>
<rect x="377.7" y="110.47" width="31.10" height="12.71" fill="#fb0606"/>
<rect x="346.0" y="123.18" width="31.70" height="12.71" fill="#8e0202"/>
<rect x="377.7" y="123.18" width="31.10" height="12.71" fill="#fb0606"/>
<rect x="346.0" y="135.89" width="31.70" height="12.71" fill="#b00404"/>
<rect x="377.7" y="135.89" width="31.10" height="12.71" fill="#fb0606"/>
<rect x="346.0" y="148.61" width="31.70" height="12.71" fill="#c80606"/>
<rect x="377.7" y="148.61" width="31.10" height="12.71" fill="#fb0606"/>
<rect x="346.0" y="161.32" width="31.70" height="12.71" fill="#d80808"/>
<rect x="377.7" y="161.32" width="31.10" height="12.71" fill="#fb0606"/>
<rect x="346.0" y="174.03" width="31.70" height="12.71" fill="#e40808"/>
<rect x="377.7" y="174.03" width="31.10" height="12.71" fill="#fb0606"/>
<rect x="346.0" y="186.74" width="31.70" height="12.71" fill="#fb0606"/>
<rect x="377.7" y="186.74" width="31.10" height="12.71" fill="#fb0606"/>
<rect x="346.0" y="199.45" width="31.70" height="12.71" fill="#fb0606"/>
<rect x="377.7" y="199.45" width="31.10" height="12.71" fill="#fb0606"/>
<rect x="346.0" y="212.16" width="31.70" height="12.71" fill="#fb0606"/>
<rect x="377.7" y="212.16" width="31.10" height="12.71" fill="#fb0606"/>
<rect x="346.0" y="224.87" width="31.70" height="12.71" fill="#fb0606"/>
<rect x="377.7" y="224.87" width="31.10" height="12.71" fill="#fb0606"/>
<rect x="346.0" y="237.58" width="31.70" height="12.71" fill="#fb0606"/>
<rect x="377.7" y="237.58" width="31.10" height="12.71" fill="#fb0606"/>
<rect x="346.0" y="250.29" width="31.70" height="12.71" fill="#fb0606"/>
<rect x="377.7" y="250.29" width="31.10" height="12.71" fill="#fb0606"/>
</g>
<line x1="346.0" y1="34.21" x2="408.8" y2="34.21" stroke="#503030" stroke-opacity="0.25" stroke-width="0.7"/>
<line x1="346.0" y1="46.92" x2="408.8" y2="46.92" stroke="#503030" stroke-opacity="0.25" stroke-width="0.7"/>
<line x1="346.0" y1="59.63" x2="408.8" y2="59.63" stroke="#503030" stroke-opacity="0.25" stroke-width="0.7"/>
<line x1="346.0" y1="72.34" x2="408.8" y2="72.34" stroke="#503030" stroke-opacity="0.25" stroke-width="0.7"/>
<line x1="346.0" y1="85.05" x2="408.8" y2="85.05" stroke="#503030" stroke-opacity="0.25" stroke-width="0.7"/>
<line x1="346.0" y1="97.76" x2="408.8" y2="97.76" stroke="#503030" stroke-opacity="0.25" stroke-width="0.7"/>
<line x1="346.0" y1="110.47" x2="408.8" y2="110.47" stroke="#503030" stroke-opacity="0.25" stroke-width="0.7"/>
<line x1="346.0" y1="123.18" x2="408.8" y2="123.18" stroke="#503030" stroke-opacity="0.25" stroke-width="0.7"/>
<line x1="346.0" y1="135.89" x2="408.8" y2="135.89" stroke="#503030" stroke-opacity="0.25" stroke-width="0.7"/>
<line x1="346.0" y1="148.61" x2="408.8" y2="148.61" stroke="#503030" stroke-opacity="0.25" stroke-width="0.7"/>
<line x1="346.0" y1="161.32" x2="408.8" y2="161.32" stroke="#503030" stroke-opacity="0.25" stroke-width="0.7"/>
<line x1="346.0" y1="174.03" x2="408.8" y2="174.03" stroke="#503030" stroke-opacity="0.25" stroke-width="0.7"/>
<line x1="346.0" y1="186.74" x2="408.8" y2="186.74" stroke="#503030" stroke-opacity="0.25" stroke-width="0.7"/>
<line x1="346.0" y1="199.45" x2="408.8" y2="199.45" stroke="#503030" stroke-opacity="0.25" stroke-width="0.7"/>
<line x1="346.0" y1="212.16" x2="408.8" y2="212.16" stroke="#503030" stroke-opacity="0.25" stroke-width="0.7"/>
<line x1="346.0" y1="224.87" x2="408.8" y2="224.87" stroke="#503030" stroke-opacity="0.25" stroke-width="0.7"/>
<line x1="346.0" y1="237.58" x2="408.8" y2="237.58" stroke="#503030" stroke-opacity="0.25" stroke-width="0.7"/>
<line x1="346.0" y1="250.29" x2="408.8" y2="250.29" stroke="#503030" stroke-opacity="0.25" stroke-width="0.7"/>
<line x1="377.7" y1="21.5" x2="377.7" y2="263.0" stroke="#503030" stroke-opacity="0.25" stroke-width="0.7"/>
<line x1="408.8" y1="27.86" x2="410.40000000000003" y2="27.86" stroke="#333" stroke-width="0.7"/>
<line x1="408.8" y1="40.57" x2="410.40000000000003" y2="40.57" stroke="#333" stroke-width="0.7"/>
<line x1="408.8" y1="53.28" x2="410.40000000000003" y2="53.28" stroke="#333" stroke-width="0.7"/>
<line x1="408.8" y1="65.99" x2="410.40000000000003" y2="65.99" stroke="#333" stroke-width="0.7"/>
<line x1="408.8" y1="78.70" x2="410.40000000000003" y2="78.70" stroke="#333" stroke-width="0.7"/>
<line x1="408.8" y1="91.41" x2="410.40000000000003" y2="91.41" stroke="#333" stroke-width="0.7"/>
<line x1="408.8" y1="104.12" x2="410.40000000000003" y2="104.12" stroke="#333" stroke-width="0.7"/>
<line x1="408.8" y1="116.83" x2="410.40000000000003" y2="116.83" stroke="#333" stroke-width="0.7"/>
<line x1="408.8" y1="129.54" x2="410.40000000000003" y2="129.54" stroke="#333" stroke-width="0.7"/>
<line x1="408.8" y1="142.25" x2="410.40000000000003" y2="142.25" stroke="#333" stroke-width="0.7"/>
<line x1="408.8" y1="154.96" x2="410.40000000000003" y2="154.96" stroke="#333" stroke-width="0.7"/>
<line x1="408.8" y1="167.67" x2="410.40000000000003" y2="167.67" stroke="#333" stroke-width="0.7"/>
<line x1="408.8" y1="180.38" x2="410.40000000000003" y2="180.38" stroke="#333" stroke-width="0.7"/>
<line x1="408.8" y1="193.09" x2="410.40000000000003" y2="193.09" stroke="#333" stroke-width="0.7"/>
<line x1="408.8" y1="205.80" x2="410.40000000000003" y2="205.80" stroke="#333" stroke-width="0.7"/>
<line x1="408.8" y1="218.51" x2="410.40000000000003" y2="218.51" stroke="#333" stroke-width="0.7"/>
<line x1="408.8" y1="231.22" x2="410.40000000000003" y2="231.22" stroke="#333" stroke-width="0.7"/>
<line x1="408.8" y1="243.93" x2="410.40000000000003" y2="243.93" stroke="#333" stroke-width="0.7"/>
<line x1="408.8" y1="256.64" x2="410.40000000000003" y2="256.64" stroke="#333" stroke-width="0.7"/>
<path d="M519.5,21.5 L339.6,21.5 L339.6,263.0 L519.5,263.0" fill="none" stroke="#6a6a6a" stroke-width="1"/>
<line x1="519.5" y1="21.5" x2="519.5" y2="263.0" stroke="#333" stroke-width="1"/>
<line x1="513.3" y1="21.5" x2="513.3" y2="263.0" stroke="#c0c0c0" stroke-width="0.8"/>
<text x="415.5" y="30.06" font-size="8" fill="#1a1a1a" stroke="#1a1a1a" stroke-width="0.14">DAF, <tspan fill="#c8202e" stroke="#c8202e">CD55</tspan> (67, 91)</text>
<text x="415.5" y="42.77" font-size="8" fill="#1a1a1a" stroke="#1a1a1a" stroke-width="0.14">CR1, CD35 (72, 63)</text>
<text x="415.5" y="55.48" font-size="8" fill="#1a1a1a" stroke="#1a1a1a" stroke-width="0.14">LT4R1 (7, 9)</text>
<text x="415.5" y="68.19" font-size="8" fill="#1a1a1a" stroke="#1a1a1a" stroke-width="0.14">CY24B (135, 162)</text>
<text x="415.5" y="80.90" font-size="8" fill="#1a1a1a" stroke="#1a1a1a" stroke-width="0.14">TTYH3 (4, 5)</text>
<text x="415.5" y="93.61" font-size="8" fill="#1a1a1a" stroke="#1a1a1a" stroke-width="0.14">ITAM, <tspan fill="#c8202e" stroke="#c8202e">CD11b</tspan> (75, 111)</text>
<text x="415.5" y="106.32" font-size="8" fill="#1a1a1a" stroke="#1a1a1a" stroke-width="0.14">ITAX, CD11c (9, 32)</text>
<text x="415.5" y="119.03" font-size="8" fill="#1a1a1a" stroke="#1a1a1a" stroke-width="0.14">PLXC1, CD232 (48, 37)</text>
<text x="415.5" y="131.74" font-size="8" fill="#1a1a1a" stroke="#1a1a1a" stroke-width="0.14">RPN2 (2, 3)</text>
<text x="415.5" y="144.45" font-size="8" fill="#1a1a1a" stroke="#1a1a1a" stroke-width="0.14">ITAV, CD51 (4, 13)</text>
<text x="415.5" y="157.16" font-size="8" fill="#1a1a1a" stroke="#1a1a1a" stroke-width="0.14">ICAM1, <tspan fill="#c8202e" stroke="#c8202e">CD54</tspan> (36, 325)</text>
<text x="415.5" y="169.87" font-size="8" fill="#1a1a1a" stroke="#1a1a1a" stroke-width="0.14">CLM8, CD300a (19, 51)</text>
<text x="415.5" y="182.58" font-size="8" fill="#1a1a1a" stroke="#1a1a1a" stroke-width="0.14">IGSF2, CD101 (20, 45)</text>
<text x="415.5" y="195.29" font-size="8" fill="#1a1a1a" stroke="#1a1a1a" stroke-width="0.14">GPR97 (2, 10)</text>
<text x="415.5" y="208.00" font-size="8" fill="#1a1a1a" stroke="#1a1a1a" stroke-width="0.14">CEAM1, CD66a (2, 12)</text>
<text x="415.5" y="220.71" font-size="8" fill="#1a1a1a" stroke="#1a1a1a" stroke-width="0.14">CD38, CD38 (17, 170)</text>
<text x="415.5" y="233.42" font-size="8" fill="#1a1a1a" stroke="#1a1a1a" stroke-width="0.14">EMR1 (22, 8)</text>
<text x="415.5" y="246.13" font-size="8" fill="#1a1a1a" stroke="#1a1a1a" stroke-width="0.14">CD36, CD36 (52, 1)</text>
<text x="415.5" y="258.84" font-size="8" fill="#1a1a1a" stroke="#1a1a1a" stroke-width="0.14">EMR3 (28, 34)</text>
<line x1="359.4" y1="263.0" x2="359.4" y2="267.8" stroke="#111" stroke-width="1.25"/>
<line x1="391.5" y1="263.0" x2="391.5" y2="267.8" stroke="#111" stroke-width="1.25"/>
<text x="348.7" y="278.5" font-size="11" fill="#1a1a1a" stroke="#1a1a1a" stroke-width="0.1">HL60</text>
<text x="383" y="278.5" font-size="11" fill="#1a1a1a" stroke="#1a1a1a" stroke-width="0.1">NB4</text>
<path d="M339.60,53.28 L330.20,53.28 L330.20,65.99 L339.60,65.99" fill="none" stroke="#686868" stroke-width="1"/>
<path d="M339.60,40.57 L325.20,40.57 L325.20,59.63 L330.20,59.63" fill="none" stroke="#686868" stroke-width="1"/>
<path d="M339.60,27.86 L318.90,27.86 L318.90,50.10 L325.20,50.10" fill="none" stroke="#686868" stroke-width="1"/>
<path d="M339.60,78.70 L332.20,78.70 L332.20,91.41 L339.60,91.41" fill="none" stroke="#686868" stroke-width="1"/>
<path d="M339.60,116.83 L336.00,116.83 L336.00,129.54 L339.60,129.54" fill="none" stroke="#686868" stroke-width="1"/>
<path d="M339.60,104.12 L333.90,104.12 L333.90,123.18 L336.00,123.18" fill="none" stroke="#686868" stroke-width="1"/>
<path d="M333.90,113.65 L328.50,113.65 L328.50,142.25 L339.60,142.25" fill="none" stroke="#686868" stroke-width="1"/>
<path d="M332.20,85.05 L323.50,85.05 L323.50,127.95 L328.50,127.95" fill="none" stroke="#686868" stroke-width="1"/>
<path d="M339.60,154.96 L335.70,154.96 L335.70,167.67 L339.60,167.67" fill="none" stroke="#686868" stroke-width="1"/>
<path d="M335.70,161.32 L328.50,161.32 L328.50,180.38 L339.60,180.38" fill="none" stroke="#686868" stroke-width="1"/>
<path d="M323.50,106.50 L313.80,106.50 L313.80,170.85 L328.50,170.85" fill="none" stroke="#686868" stroke-width="1"/>
<path d="M318.90,38.98 L299.30,38.98 L299.30,138.68 L313.80,138.68" fill="none" stroke="#686868" stroke-width="1"/>
<path d="M337.60,193.09 L339.60,193.09" fill="none" stroke="#686868" stroke-width="1"/>
<path d="M337.60,205.80 L339.60,205.80" fill="none" stroke="#686868" stroke-width="1"/>
<path d="M337.60,218.51 L339.60,218.51" fill="none" stroke="#686868" stroke-width="1"/>
<path d="M337.60,231.22 L339.60,231.22" fill="none" stroke="#686868" stroke-width="1"/>
<path d="M337.60,243.93 L339.60,243.93" fill="none" stroke="#686868" stroke-width="1"/>
<path d="M337.60,256.64 L339.60,256.64" fill="none" stroke="#686868" stroke-width="1"/>
<path d="M337.60,193.09 L337.60,256.64" fill="none" stroke="#686868" stroke-width="1"/>
<path d="M299.30,88.83 L296.00,88.83 L296.00,204.40 L337.60,204.40" fill="none" stroke="#686868" stroke-width="1"/>
<circle cx="291.5" cy="145.6" r="8.9" fill="#000"/>
<text x="291.4" y="149.9" font-size="11.8" font-weight="bold" fill="#fff" text-anchor="middle">3</text>
</svg>
</body></html>
